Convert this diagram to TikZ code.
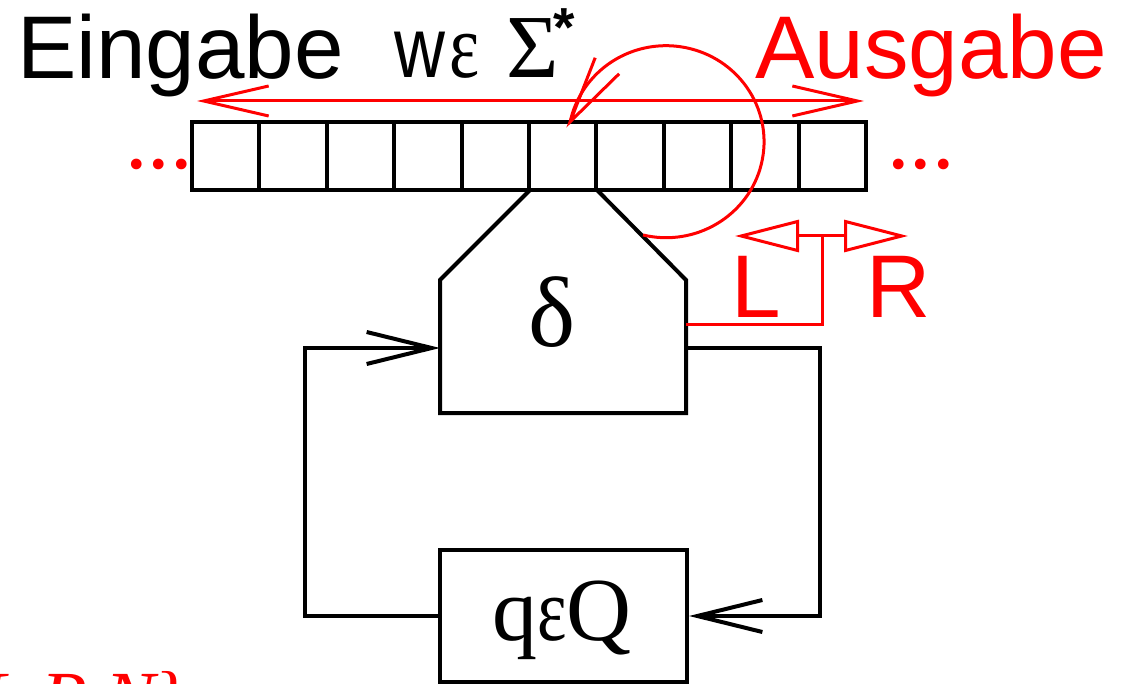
\documentclass[tikz,border=0pt]{standalone}
\usepackage{fontspec}
\newfontfamily\hv{Liberation Sans}
\newfontfamily\hvn[FakeStretch=0.82]{Liberation Sans}
\newfontfamily\tm{Liberation Serif}
\newfontfamily\tmn[FakeStretch=0.78]{Liberation Serif}
\usetikzlibrary{arrows.meta}
\definecolor{rd}{RGB}{255,0,0}
\begin{document}
\begin{tikzpicture}[x=1pt,y=-1pt,
  blk/.style={line width=4pt,draw=black},
  rline/.style={line width=3pt,draw=rd},
  barb/.style={-{Straight Barb[length=65pt,width=32pt]}},
  dbarb/.style={{Straight Barb[length=65pt,width=30pt]}-{Straight Barb[length=65pt,width=30pt]}},
  tri/.style={{Triangle[open,length=64pt,width=32pt]}-{Triangle[open,length=64pt,width=32pt]}},
  cell/.style={draw,line width=4pt,minimum width=67.4pt,minimum height=68pt,inner sep=0pt},
  lbl/.style={inner sep=0pt,font=\hv\fontsize{89}{96}\selectfont},
  sym/.style={inner sep=0pt,font=\tm\fontsize{90}{96}\selectfont},
  dots/.style={inner sep=0pt,text=rd,font=\tm\fontsize{90}{96}\selectfont}]
\useasboundingbox (0,0) rectangle (1124,684);
\begin{scope}
\clip (0,0) rectangle (1124,684);
% texts on top
\node[lbl,anchor=base west] (ein) at (17,79) {Eingabe};
\node[inner sep=0pt,anchor=base west,font=\hvn\fontsize{86}{96}\selectfont] (w) at (394,78) {w};
\node[inner sep=0pt,anchor=base west,font=\tmn\fontsize{92}{96}\selectfont] (eps) at (449,78) {ε};
\node[sym,anchor=base west] (sig) at (506,78) {Σ};
\node[inner sep=0pt,anchor=base west,font=\hv\bfseries\fontsize{55}{60}\selectfont] (star) at (553,47) {*};
\node[lbl,anchor=base west,text=rd] (aus) at (755,79) {Ausgabe};
% tape
\foreach \i in {0,...,9}
  \node[cell] (c\i) at ({192+33.7+67.4*\i},156) {};
\node[dots,anchor=base west] (ldots) at (125,169) {...};
\node[dots,anchor=base west] (rdots) at (887,169) {...};
% red double arrow
\coordinate (al) at (197,101);
\coordinate (ar) at (864,101);
\draw[rline,dbarb] (al) -- (ar);
% head / delta box
\coordinate (p1) at (530,190);
\coordinate (p2) at (440,280);
\coordinate (p3) at (440,413);
\coordinate (p4) at (686,413);
\coordinate (p5) at (686,280);
\coordinate (p6) at (597,190);
\draw[blk,line join=miter] (p1) -- (p2) -- (p3) -- (p4) -- (p5) -- (p6);
\node[inner sep=0pt,anchor=base,font=\tm\fontsize{100}{104}\selectfont] (delta) at (552,347) {δ};
% state box
\node[draw,line width=4pt,minimum width=247pt,minimum height=132pt,inner sep=0pt] (Q) at (563.5,616) {};
\node[sym,anchor=base] (qt) at (562,640) {q{\tmn ε}Q};
% loop connectors
\coordinate (din) at (440,348);
\coordinate (dout) at (686,348);
\draw[blk,barb] (Q.west) -| (305,348) -- (din);
\draw[blk,barb] (dout) -| (820,616) -- (Q.east);
% L / R
\coordinate (dred) at (686,325);
\coordinate (jn) at (822,236);
\draw[rline] (dred) -| (jn);
\coordinate (lt) at (735,236);
\coordinate (rt) at (908,236);
\draw[rline,tri] (lt) -- (rt);
\node[lbl,anchor=base west,text=rd] (L) at (731,318) {L};
\node[lbl,anchor=base west,text=rd] (R) at (866,318) {R};
% circular arrow
\draw[rline] (643,235) arc[start angle=103.6,end angle=-168,x radius=98,y radius=96] coordinate (ctip);
\draw[rline,line join=miter] (ctip) ++(25,-64) -- (ctip) -- ++(49,-48);
% clipped set at bottom left
\node[inner sep=0pt,anchor=base east,text=rd,font=\tm\itshape\fontsize{75}{80}\selectfont] (set) at (192,723) {{\upshape\{}L,R,N{\upshape\}}};
\end{scope}
\end{tikzpicture}
\end{document}
